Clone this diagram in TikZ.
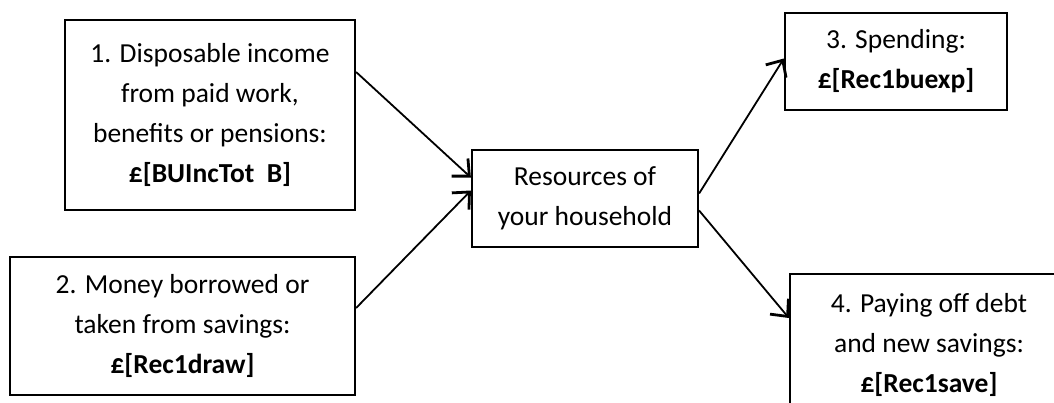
\documentclass[tikz,border=0pt]{standalone}
\usepackage{fontspec}
\setmainfont{Carlito}
\usetikzlibrary{arrows.meta}
\begin{document}
\begin{tikzpicture}[x=1pt,y=-1pt,
  box/.style={draw=black,line width=2.2pt,inner sep=0pt,align=center,
    font=\fontsize{27.5}{40}\selectfont,text=black},
  arr/.style={line width=1.8pt,draw=black,
    -{Straight Barb[length=13pt,width=24pt,line width=2.8pt]}}]
\useasboundingbox (0,0) rectangle (1054,402);
\clip (0,0) rectangle (1054,402);
\fill[white] (0,0) rectangle (1054,402);
\node[box,minimum width=290pt,minimum height=190pt] (b1) at (210,115)
  {1. Disposable income\\from paid work,\\benefits or pensions:\\\textbf{£[BUIncTot\ \ B]}};
\node[box,minimum width=345pt,minimum height=138pt] (b2) at (182.5,326)
  {2. Money borrowed or\\taken from savings:\\\textbf{£[Rec1draw]}};
\node[box,minimum width=226pt,minimum height=97pt] (c) at (585,198.5)
  {Resources of\\your household};
\node[box,minimum width=222pt,minimum height=97pt] (b3) at (896,61.5)
  {3. Spending:\\\textbf{£[Rec1buexp]}};
\node[box,minimum width=278pt,minimum height=142pt] (b4) at (929,345)
  {4. Paying off debt\\and new savings:\\\textbf{£[Rec1save]}};
\draw[arr] ([yshift=43pt]b1.east) -- ([yshift=21pt]c.west);
\draw[arr] ([yshift=18pt]b2.east) -- ([yshift=8pt]c.west);
\draw[arr] ([yshift=5pt]c.east) -- ([yshift=3pt]b3.west);
\draw[arr] ([yshift=-12pt]c.east) -- ([yshift=27pt]b4.west);
\end{tikzpicture}
\end{document}
